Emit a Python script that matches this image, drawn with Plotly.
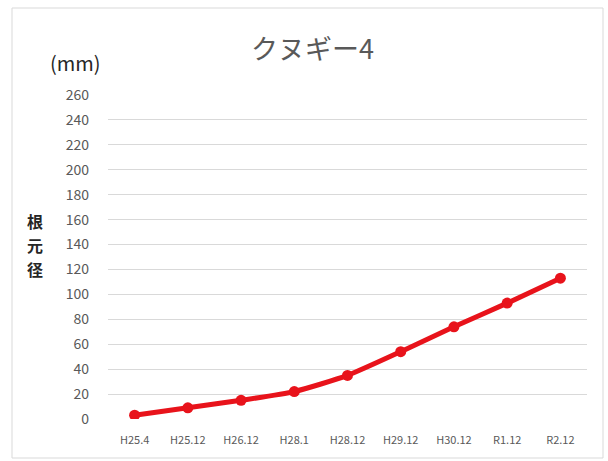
import plotly.graph_objects as go

categories = ["H25.4", "H25.12", "H26.12", "H28.1", "H28.12", "H29.12", "H30.12", "R1.12", "R2.12"]
values = [3, 9, 15, 22, 35, 54, 74, 93, 113]
y_ticks = list(range(0, 261, 20))
y_label_chars = ["根", "元", "径"]

PL, PR, PT, PB = 108, 587, 95, 419
W, H = 608, 461

def px(x):
    return (x - PL) / (PR - PL)

def py(y):
    return (PB - y) / (PB - PT)

fig = go.Figure()
fig.add_trace(go.Scatter(
    x=categories, y=values, mode="lines+markers",
    line=dict(color="#e8131b", width=5, shape="spline", smoothing=0.6),
    marker=dict(color="#e8131b", size=11),
    hoverinfo="skip", showlegend=False,
))

annotations = [
    dict(text="クヌギー4", xref="paper", yref="paper", x=px(312), y=py(47),
         showarrow=False, font=dict(size=27, color="#595959"),
         xanchor="center", yanchor="middle"),
    dict(text="(mm)", xref="paper", yref="paper", x=px(75), y=py(62),
         showarrow=False, font=dict(size=20, color="#262626"),
         xanchor="center", yanchor="middle"),
]
for i, ch in enumerate(y_label_chars):
    annotations.append(dict(
        text="<b>" + ch + "</b>", xref="paper", yref="paper",
        x=px(35), y=py(221 + 24 * i), showarrow=False,
        font=dict(size=16, color="#262626"),
        xanchor="center", yanchor="middle"))

fig.update_layout(
    width=W, height=H,
    margin=dict(l=PL, r=W - PR, t=PT, b=H - PB),
    paper_bgcolor="white", plot_bgcolor="white",
    font=dict(family="Noto Sans CJK JP, Noto Sans, sans-serif", color="#595959"),
    xaxis=dict(
        type="category", range=[-0.5, len(categories) - 0.5],
        showgrid=False, zeroline=False, showline=False,
        ticks="", tickfont=dict(size=11, color="#595959"),
        ticklabelstandoff=13,
    ),
    yaxis=dict(
        range=[0, 260], tickvals=y_ticks,
        showgrid=True, gridcolor="#d9d9d9", gridwidth=1,
        zeroline=False, showline=False, ticks="",
        tickfont=dict(size=14, color="#595959"),
        ticklabelstandoff=18,
    ),
    shapes=[dict(
        type="rect", xref="paper", yref="paper",
        x0=px(12), x1=px(603), y0=py(458), y1=py(8),
        line=dict(color="#d9d9d9", width=1), fillcolor="rgba(0,0,0,0)", layer="below",
    )],
    annotations=annotations,
)

fig.write_html("out.html")
